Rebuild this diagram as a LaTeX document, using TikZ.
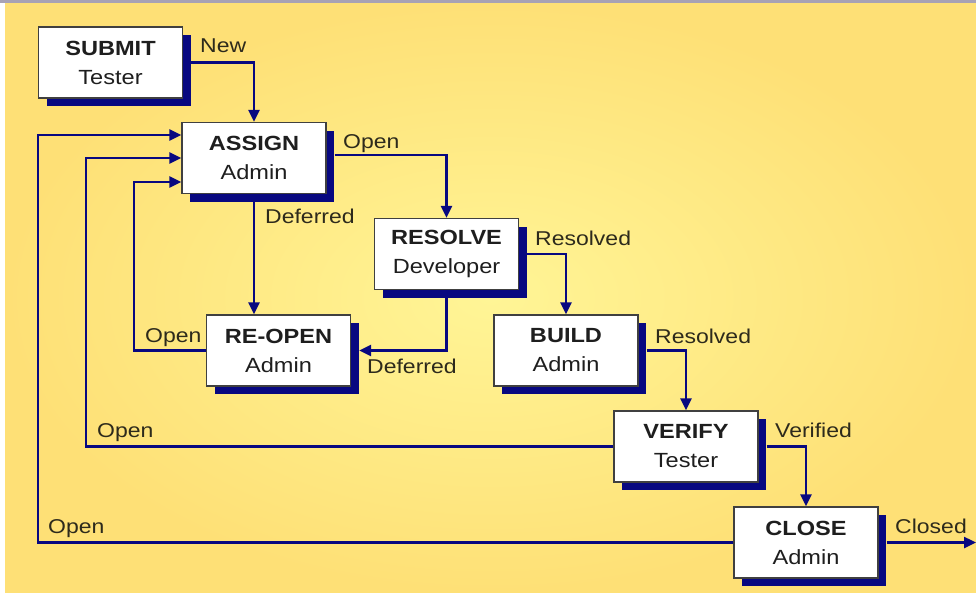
\documentclass[tikz,border=0pt]{standalone}
\usepackage{fontspec}
\setmainfont{Liberation Sans}[FakeStretch=1.15]
\usetikzlibrary{arrows.meta,shadows,calc}
\definecolor{navy}{RGB}{8,8,128}
\definecolor{bgin}{RGB}{255,245,150}
\definecolor{bgout}{RGB}{254,224,118}
\definecolor{boxtxt}{RGB}{30,30,30}
\definecolor{lbltxt}{RGB}{45,42,28}
\definecolor{topbar}{RGB}{168,162,180}
\begin{document}
\begin{tikzpicture}[x=1pt,y=-1pt,
  state/.style={rectangle, draw=black!75, line width=1.3pt, fill=white,
    minimum width=144pt, minimum height=71pt, inner sep=0pt, align=center,
    text=boxtxt, font=\fontsize{20.5}{29}\selectfont,
    drop shadow={shadow xshift=8pt, shadow yshift=-8pt, fill=navy, opacity=1}},
  conn/.style={draw=navy, line width=2.4pt, -{Triangle[length=12pt,width=11pt]}},
  lbl/.style={anchor=base west, inner sep=0pt, text=lbltxt, font=\fontsize{20}{24}\selectfont}]
\useasboundingbox (0,0) rectangle (976,592);
\fill[white] (0,0) rectangle (976,592);
\shade[inner color=bgin, outer color=bgout] (5,3) rectangle (976,592);
\fill[topbar] (0,0) rectangle (976,3);

\node[state] (submit) at (110.5,62.5) {\textbf{SUBMIT}\\Tester};
\node[state] (assign) at (254,158) {\textbf{ASSIGN}\\Admin};
\node[state] (resolve) at (446.5,254) {\textbf{RESOLVE}\\Developer};
\node[state] (reopen) at (278.5,350.5) {\textbf{RE-OPEN}\\Admin};
\node[state] (build) at (566,350.5) {\textbf{BUILD}\\Admin};
\node[state] (verify) at (686,446.5) {\textbf{VERIFY}\\Tester};
\node[state] (close) at (806,542.5) {\textbf{CLOSE}\\Admin};

\coordinate (l1) at (134,0);
\coordinate (l2) at (86,0);
\coordinate (l3) at (38,0);
\coordinate (out) at (976,542.5);

\draw[conn] ([xshift=8pt]submit.east) -| (assign.north);
\draw[conn] ([xshift=8pt,yshift=3pt]assign.east) -| (resolve.north);
\draw[conn] ([yshift=-8pt]assign.south) -- (assign.south |- reopen.north);
\draw[conn] ([yshift=-8pt]resolve.south) |- ([xshift=8pt]reopen.east);
\draw[conn] ([xshift=8pt]resolve.east) -| (build.north);
\draw[conn] ([xshift=8pt]build.east) -| (verify.north);
\draw[conn] ([xshift=8pt]verify.east) -| (close.north);
\draw[conn] ([xshift=8pt]close.east) -- (out);
\draw[conn] (reopen.west) -- (reopen.west -| l1) |- ([yshift=-24pt]assign.west);
\draw[conn] (verify.west) -- (verify.west -| l2) |- (assign.west);
\draw[conn] (close.west) -- (close.west -| l3) |- ([yshift=23pt]assign.west);

\node[lbl] (tNew) at (200,52) {New};
\node[lbl] (tOpenA) at (343,148) {Open};
\node[lbl] (tDefA) at (265,223) {Deferred};
\node[lbl] (tResA) at (535,245) {Resolved};
\node[lbl] (tDefB) at (367,373) {Deferred};
\node[lbl] (tOpenB) at (145,342) {Open};
\node[lbl] (tResB) at (655,343) {Resolved};
\node[lbl] (tVer) at (775,437) {Verified};
\node[lbl] (tClosed) at (895,533) {Closed};
\node[lbl] (tOpenC) at (97,437) {Open};
\node[lbl] (tOpenD) at (48,533) {Open};
\end{tikzpicture}
\end{document}
